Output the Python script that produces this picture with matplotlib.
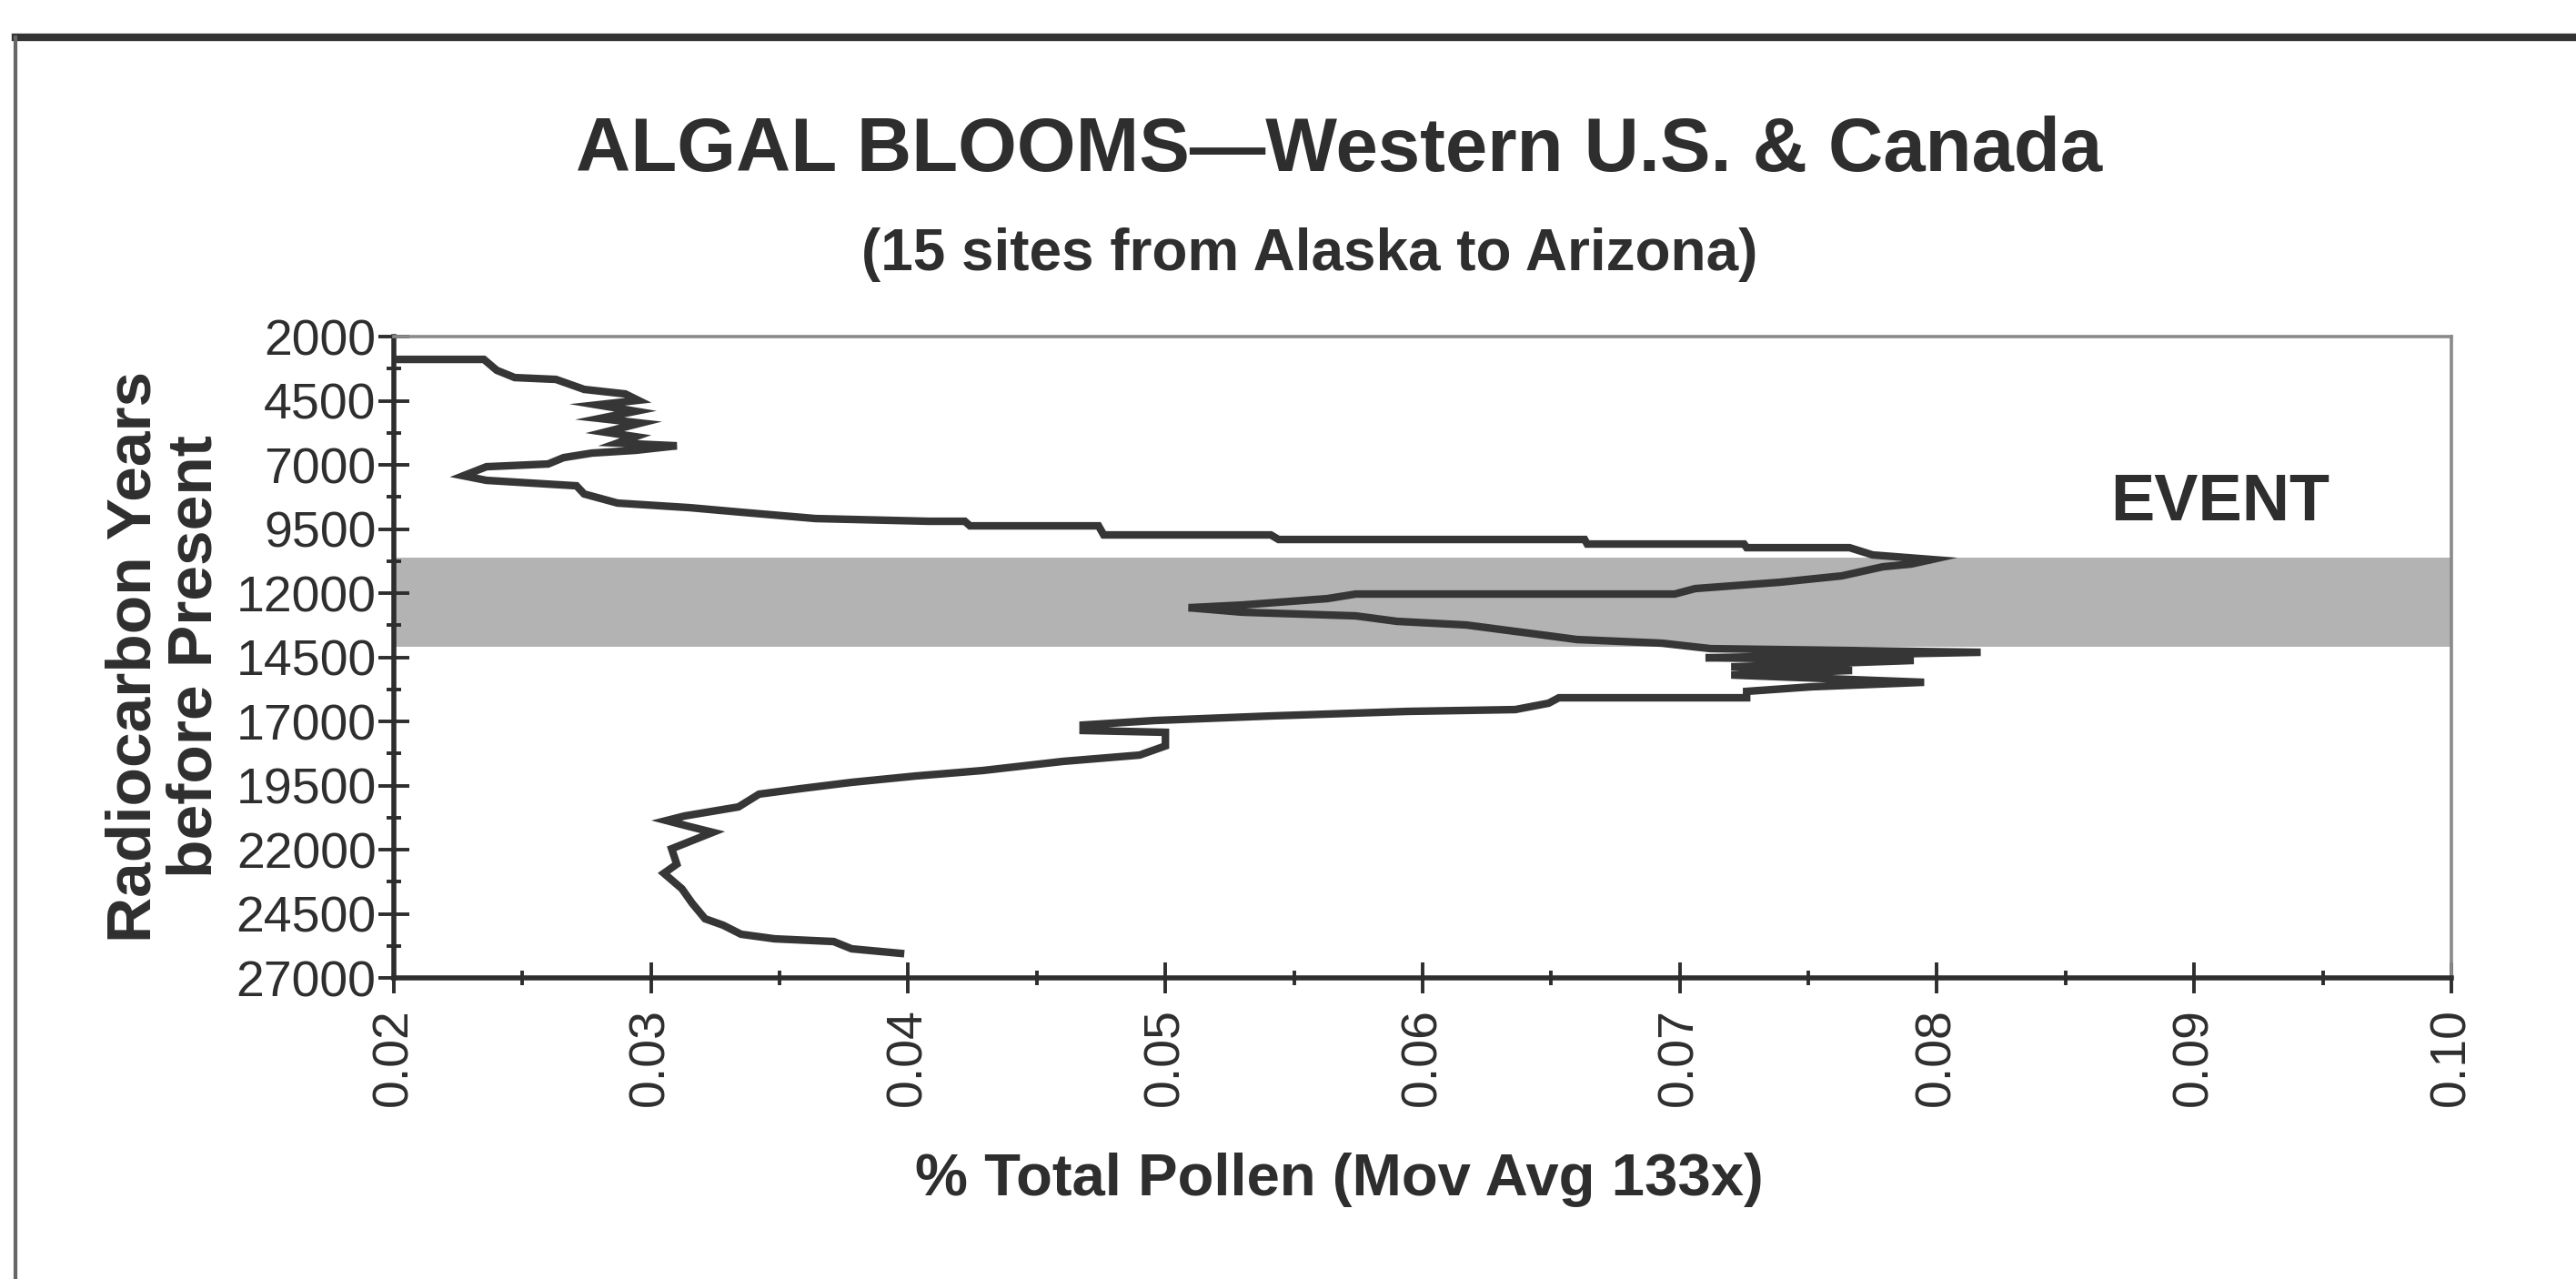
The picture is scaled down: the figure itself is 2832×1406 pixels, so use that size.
import matplotlib.pyplot as plt
import numpy as np
from matplotlib.lines import Line2D
from matplotlib.ticker import FixedLocator, FuncFormatter, MultipleLocator

plt.rcParams['font.family'] = ['Liberation Sans', 'DejaVu Sans']

# moving-average pollen share (%), ordered by age
pollen_pct = [
    0.0202, 0.0235, 0.0240, 0.0247, 0.0263, 0.0274, 0.0290, 0.0295, 0.0279, 0.0294,
    0.0280, 0.0296, 0.0282, 0.0294, 0.0287, 0.0310, 0.0294, 0.0277, 0.0266, 0.0260,
    0.0236, 0.0227, 0.0236, 0.0271, 0.0274, 0.0287, 0.0315, 0.0335, 0.0364, 0.0408,
    0.0422, 0.0424, 0.0474, 0.0476, 0.0541, 0.0544, 0.0663, 0.0664, 0.0725, 0.0726,
    0.0766, 0.0775, 0.0798, 0.0790, 0.0779, 0.0763, 0.0739, 0.0706, 0.0698, 0.0574,
    0.0563, 0.0530, 0.0509, 0.0530, 0.0574, 0.0590, 0.0617, 0.0644, 0.0660, 0.0693,
    0.0712, 0.0817,
    0.0710, 0.0791, 0.0720, 0.0767, 0.0720, 0.0795, 0.0751, 0.0726, 0.0726, 0.0653,
    0.0649, 0.0636, 0.0594, 0.0541,
    0.0496, 0.0468, 0.0468, 0.0500, 0.0500, 0.0490, 0.0460, 0.0429, 0.0403, 0.0378,
    0.0358, 0.0342, 0.0334, 0.0313, 0.0306, 0.0315, 0.0324,
    0.0308, 0.0310, 0.0305, 0.0312, 0.0316, 0.0321, 0.0328, 0.0335, 0.0348, 0.0371,
    0.0378, 0.0397,
]
age_bp = [
    2887, 2887, 3312, 3596, 3667, 4057, 4234, 4482, 4660, 4908,
    5191, 5369, 5723, 5901, 6149, 6255, 6433, 6539, 6716, 6964,
    7071, 7425, 7603, 7815, 8135, 8489, 8667, 8844, 9092, 9198,
    9198, 9376, 9376, 9730, 9730, 9908, 9908, 10085, 10085, 10227,
    10227, 10510, 10688, 10865, 10971, 11326, 11574, 11822, 12035, 12035,
    12212, 12461, 12567, 12744, 12886, 13099, 13241, 13595, 13808, 13950,
    14163, 14305,
    14518, 14624, 14872, 15014, 15191, 15475, 15652, 15829, 16078, 16078,
    16290, 16539, 16610, 16787,
    16964, 17141, 17354, 17425, 17957, 18312, 18560, 18914, 19127, 19375,
    19623, 19836, 20333, 20687, 20865, 21100, 21325,
    21964, 22567, 22921, 23524, 24091, 24694, 24943, 25297, 25475, 25581,
    25865, 26042,
]

event_start, event_end = 10600, 14100

ink = '#2e2e2e'

fig = plt.figure(figsize=(14.16, 7.03), dpi=200)
ax = fig.add_axes([0.1529, 0.2354, 0.7987, 0.5014])

ax.axhspan(event_start, event_end, color='#b3b3b3', lw=0, zorder=1)
ax.plot(pollen_pct, age_bp, color='#363636', lw=3.0, solid_joinstyle='miter', zorder=3)
ax.text(0.0910, 8490, 'EVENT', fontsize=26, fontweight='bold', color=ink,
        ha='center', va='center')

ax.set_xlim(0.02, 0.10)
ax.set_ylim(27000, 2000)
ax.xaxis.set_major_locator(MultipleLocator(0.01))
ax.xaxis.set_minor_locator(MultipleLocator(0.005))
ax.yaxis.set_major_locator(FixedLocator(np.arange(2000, 27001, 2500)))
ax.yaxis.set_minor_locator(FixedLocator(np.arange(2000, 27001, 1250)))
ax.xaxis.set_major_formatter(FuncFormatter(lambda v, p: f'{v:.2f}'))
ax.yaxis.set_major_formatter(FuncFormatter(lambda v, p: f'{v:.0f}'))

ax.tick_params(axis='both', which='major', direction='inout', length=12, width=1.4,
               color=ink, labelcolor=ink)
ax.tick_params(axis='both', which='minor', direction='inout', length=6, width=1.4, color=ink)
ax.tick_params(axis='x', which='major', labelrotation=90, pad=6, labelsize=20)
ax.tick_params(axis='y', which='major', pad=1, labelsize=20)

for side in ('left', 'bottom'):
    ax.spines[side].set_linewidth(2.0)
    ax.spines[side].set_color(ink)
for side in ('top', 'right'):
    ax.spines[side].set_linewidth(1.3)
    ax.spines[side].set_color('#8a8a8a')

fig.text(0.5198, 0.882, 'ALGAL BLOOMS\u2014Western U.S. & Canada', fontsize=30,
         fontweight='bold', color=ink, ha='center', va='center')
fig.text(0.5085, 0.801, '(15 sites from Alaska to Arizona)', fontsize=23,
         fontweight='bold', color=ink, ha='center', va='center')
fig.text(0.5198, 0.0775, '% Total Pollen (Mov Avg 133x)', fontsize=23.5,
         fontweight='bold', color=ink, ha='center', va='center')
fig.text(0.064, 0.4865, 'Radiocarbon Years\nbefore Present', fontsize=25,
         fontweight='bold', color=ink, ha='center', va='center', rotation=90,
         multialignment='center', linespacing=1.05)

# outer border of the chart box (scan is cropped on the right and bottom)
fig.add_artist(Line2D([0.006, 1.0], [0.9708, 0.9708], transform=fig.transFigure,
                      color='#333333', lw=3.0))
fig.add_artist(Line2D([0.006, 0.006], [0.0, 0.9708], transform=fig.transFigure,
                      color='#666666', lw=1.5))

fig.savefig('out.png', dpi=200, facecolor='white')
